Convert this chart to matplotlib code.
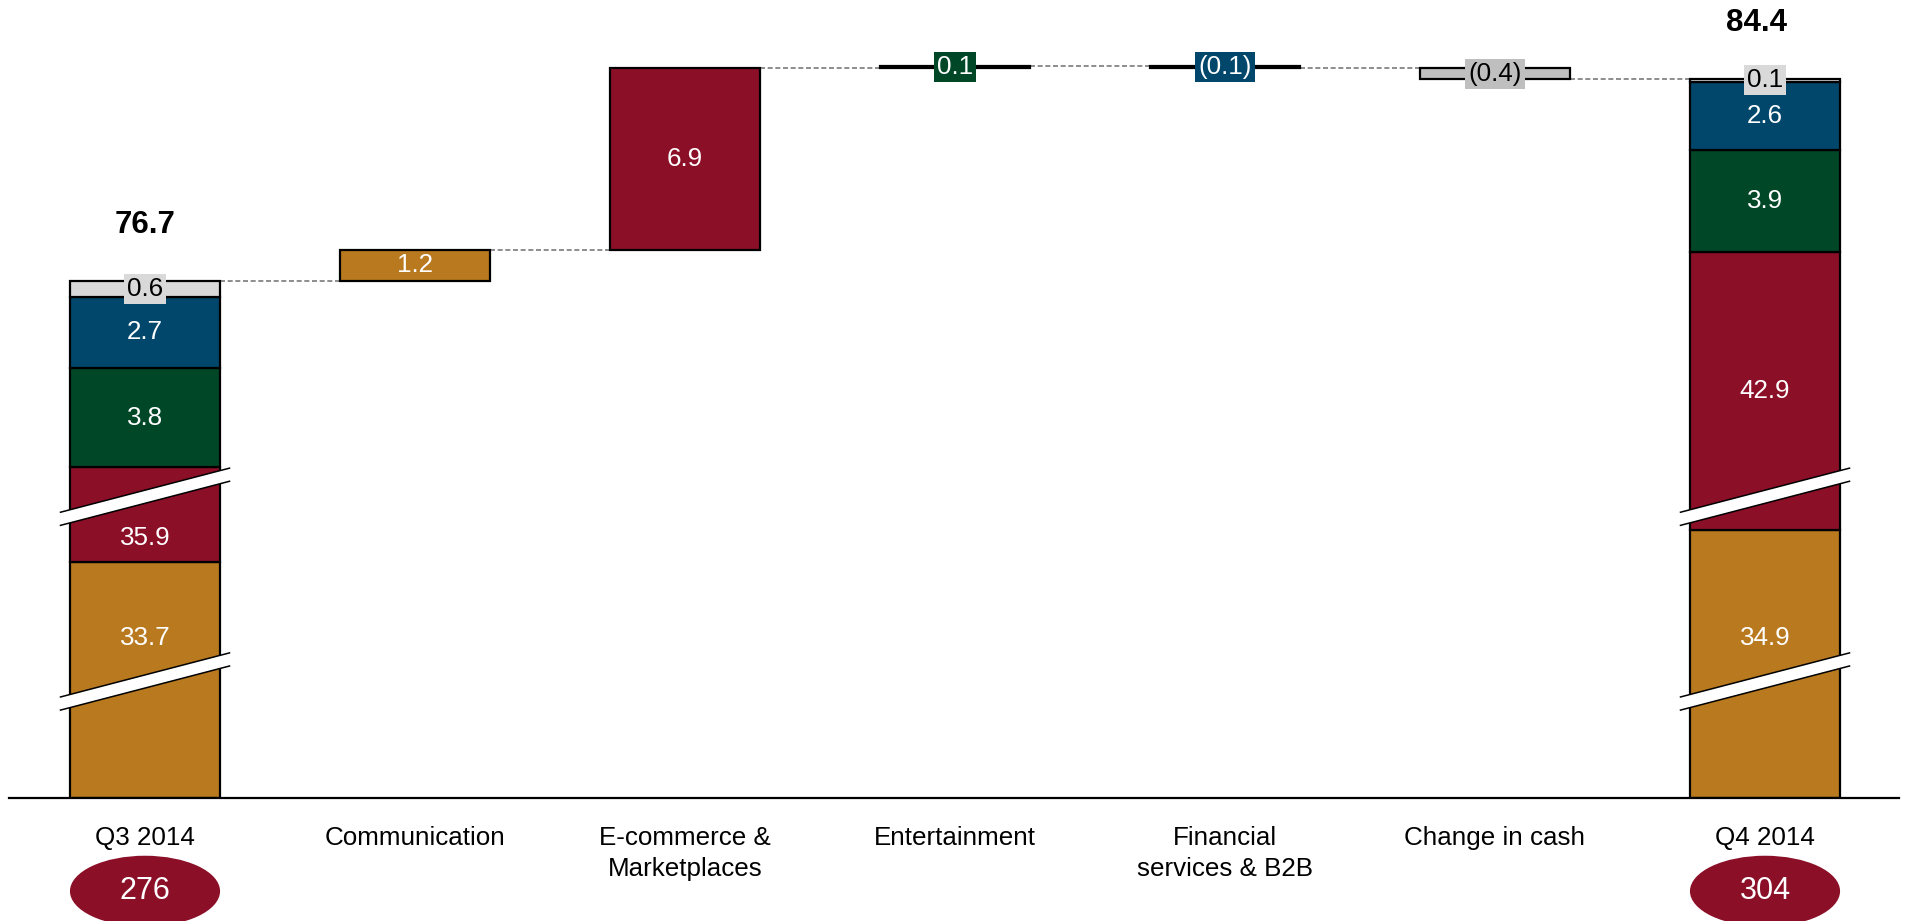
import numpy as np
import matplotlib
matplotlib.use("Agg")
import matplotlib.pyplot as plt
from matplotlib.patches import Ellipse, Polygon

plt.rcParams["font.family"] = ["Liberation Sans", "DejaVu Sans"]

# ---- data ----
categories = ["Q3 2014", "Communication", "E-commerce &\nMarketplaces", "Entertainment",
              "Financial\nservices & B2B", "Change in cash", "Q4 2014"]
# stacked totals, bottom to top: Communication, E-commerce, Entertainment, Financial, Cash
q3_segments = [33.7, 35.9, 3.8, 2.7, 0.6]
q4_segments = [34.9, 42.9, 3.9, 2.6, 0.1]
changes = [1.2, 6.9, 0.1, -0.1, -0.4]
bubble_values = [276, 304]

# ---- styling ----
ORANGE = "#B9791F"
RED = "#8C0F28"
GREEN = "#004727"
BLUE = "#00476B"
LIGHT_GREY = "#D9D9D9"
MID_GREY = "#BFBFBF"
segment_colors = [ORANGE, RED, GREEN, BLUE, LIGHT_GREY]
change_colors = [ORANGE, RED, GREEN, BLUE, MID_GREY]
change_text = ["white", "white", "white", "white", "black"]
change_box = [None, None, GREEN, BLUE, MID_GREY]
segment_text = ["white", "white", "white", "white", "black"]

FS = 18.7
W = 0.556
EDGE_LW = 1.6

# broken-axis layout: the two bottom segments are squeezed above the floor
FLOOR = 57.0
TOP = 87.41
lower_split = [66.0, 67.2]        # drawn boundary between 1st and 2nd segment
lower_label_y = [63.1, 63.1]      # label position of 1st segment
second_label_y = [66.9, 72.5]     # label position of 2nd segment
break_y = [61.44, 68.48]          # centres of the slanted cut marks
BREAK_HALF_W = 0.313
BREAK_RISE = 1.68
BREAK_THICK = 0.50

fig = plt.figure(figsize=(19.06, 9.21), dpi=100)
ax = fig.add_axes([0, 123 / 921, 1, 798 / 921])
ax.set_xlim(-145 / 270, (1906 - 145) / 270)
ax.set_ylim(FLOOR, TOP)
for s in ax.spines.values():
    s.set_visible(False)
ax.set_yticks([])
ax.set_xticks(range(len(categories)))
ax.set_xticklabels(categories, fontsize=FS, linespacing=1.4)
ax.tick_params(axis="x", length=0, pad=20)

# baseline
ax.plot([-0.504, 6.496], [FLOOR, FLOOR], color="black", lw=1.6, clip_on=False, zorder=6)


def fmt(v):
    return f"({abs(v):.1f})" if v < 0 else f"{v:.1f}"


def draw_break(xc, yc):
    yl, yr = yc - BREAK_RISE / 2, yc + BREAK_RISE / 2
    t = BREAK_THICK / 2
    pts = [(xc - BREAK_HALF_W, yl - t), (xc + BREAK_HALF_W, yr - t),
           (xc + BREAK_HALF_W, yr + t), (xc - BREAK_HALF_W, yl + t)]
    ax.add_patch(Polygon(pts, closed=True, fc="white", ec="none", zorder=5))
    ax.plot([xc - BREAK_HALF_W, xc + BREAK_HALF_W], [yl - t, yr - t], color="black", lw=1.1, zorder=5)
    ax.plot([xc - BREAK_HALF_W, xc + BREAK_HALF_W], [yl + t, yr + t], color="black", lw=1.1, zorder=5)


def draw_total(x, segs, k):
    cum = np.cumsum(segs)
    bottoms = [FLOOR, lower_split[k]] + list(cum[1:-1])
    tops = [lower_split[k]] + list(cum[1:])
    for i, (b, t) in enumerate(zip(bottoms, tops)):
        ax.bar(x, t - b, bottom=b, width=W, color=segment_colors[i],
               edgecolor="black", linewidth=EDGE_LW, zorder=3)
        if i == 0:
            ly = lower_label_y[k]
        elif i == 1:
            ly = second_label_y[k]
        else:
            ly = (b + t) / 2
        box = None
        if i == len(segs) - 1:
            box = dict(boxstyle="square,pad=0.12", fc=LIGHT_GREY, ec="none")
        ax.text(x, ly, fmt(segs[i]), ha="center", va="center", fontsize=FS,
                color=segment_text[i], bbox=box, zorder=7)
    for yb in break_y:
        draw_break(x, yb)
    total = cum[-1]
    ax.text(x - (0.03 if k == 1 else 0.0), total + 2.12, f"{total:.1f}", ha="center",
            va="center", fontsize=22.5, fontweight="bold", zorder=7)
    ax.add_patch(Ellipse((x, 53.45), W, 2.7, fc=RED, ec="none", clip_on=False, zorder=7))
    ax.text(x, 53.45, str(bubble_values[k]), ha="center", va="center", fontsize=22,
            color="white", zorder=8)
    return total


start = draw_total(0, q3_segments, 0)
end_x = len(categories) - 1

DASH_KW = dict(color="#7A7A7A", lw=1.2, dashes=(3, 1.6), zorder=2)

level = start
prev_right = 0 + W / 2
for j, d in enumerate(changes):
    x = j + 1
    ax.plot([prev_right, x - W / 2], [level, level], **DASH_KW)
    lo, hi = (level, level + d) if d >= 0 else (level + d, level)
    ax.bar(x, hi - lo, bottom=lo, width=W, color=change_colors[j],
           edgecolor="black", linewidth=EDGE_LW, zorder=3)
    box = None
    if change_box[j] is not None:
        box = dict(boxstyle="square,pad=0.12", fc=change_box[j], ec="none")
    ax.text(x, (lo + hi) / 2, fmt(d), ha="center", va="center", fontsize=FS,
            color=change_text[j], bbox=box, zorder=7)
    level += d
    prev_right = x + W / 2

# connector into the closing bar
ax.plot([prev_right, end_x - W / 2], [level, level], **DASH_KW)

draw_total(end_x, q4_segments, 1)

fig.savefig("out.png", dpi=100)
